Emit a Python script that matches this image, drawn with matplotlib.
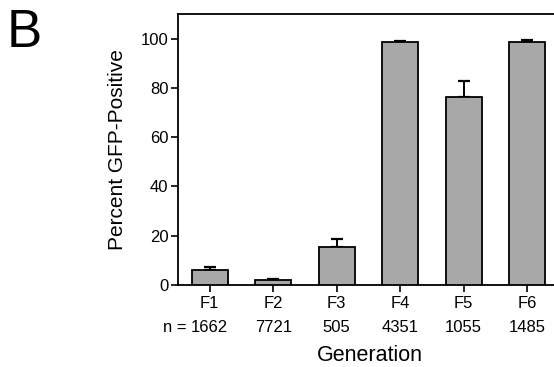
import matplotlib
matplotlib.use("Agg")
import matplotlib.pyplot as plt
from matplotlib.transforms import blended_transform_factory

plt.rcParams['font.family'] = ['Liberation Sans', 'DejaVu Sans']

generations = ["F1", "F2", "F3", "F4", "F5", "F6"]
n_counts = ["1662", "7721", "505", "4351", "1055", "1485"]
percent = [5.9, 1.9, 15.5, 98.5, 76.3, 98.5]
err_up = [1.5, 0.6, 3.0, 0.5, 6.4, 1.1]

fig = plt.figure(figsize=(5.54, 3.67), dpi=100)
ax = fig.add_axes([0.3213, 0.2234, 0.6877, 0.7385])

x = list(range(1, len(generations) + 1))
ax.bar(x, percent, width=0.57, color="#a8a8a8", edgecolor="black", linewidth=1.3, zorder=3)
ax.errorbar(x, percent, yerr=[[0] * len(err_up), err_up], fmt="none",
            ecolor="black", elinewidth=1.4, capsize=4, capthick=1.6, zorder=2)

ax.set_xlim(0.5, 6.5)
ax.set_ylim(0, 110)
ax.set_yticks([0, 20, 40, 60, 80, 100])
ax.set_xticks(x)
ax.set_xticklabels(generations, fontsize=12)
ax.tick_params(axis="both", direction="out", length=5, width=1.2, labelsize=12, pad=2)
ax.tick_params(axis="x", pad=3)
for sp in ["top", "left", "bottom"]:
    ax.spines[sp].set_linewidth(1.3)
ax.spines["right"].set_visible(False)

ax.set_ylabel("Percent GFP-Positive", fontsize=15, labelpad=10)

# n row under the generation labels
trans = blended_transform_factory(ax.transData, ax.transAxes)
num_texts = []
for xi, n in zip(x, n_counts):
    t = ax.text(xi, -0.172, n, transform=trans, ha="center", va="baseline", fontsize=12)
    num_texts.append(t)
ax.annotate("n = ", xy=(0, 0), xycoords=num_texts[0], ha="right", va="bottom", fontsize=12)

fig.text(0.668, 0.016, "Generation", ha="center", va="baseline", fontsize=15.5)
fig.text(0.012, 0.872, "B", ha="left", va="baseline", fontsize=38)

fig.savefig("out.png", dpi=100)
